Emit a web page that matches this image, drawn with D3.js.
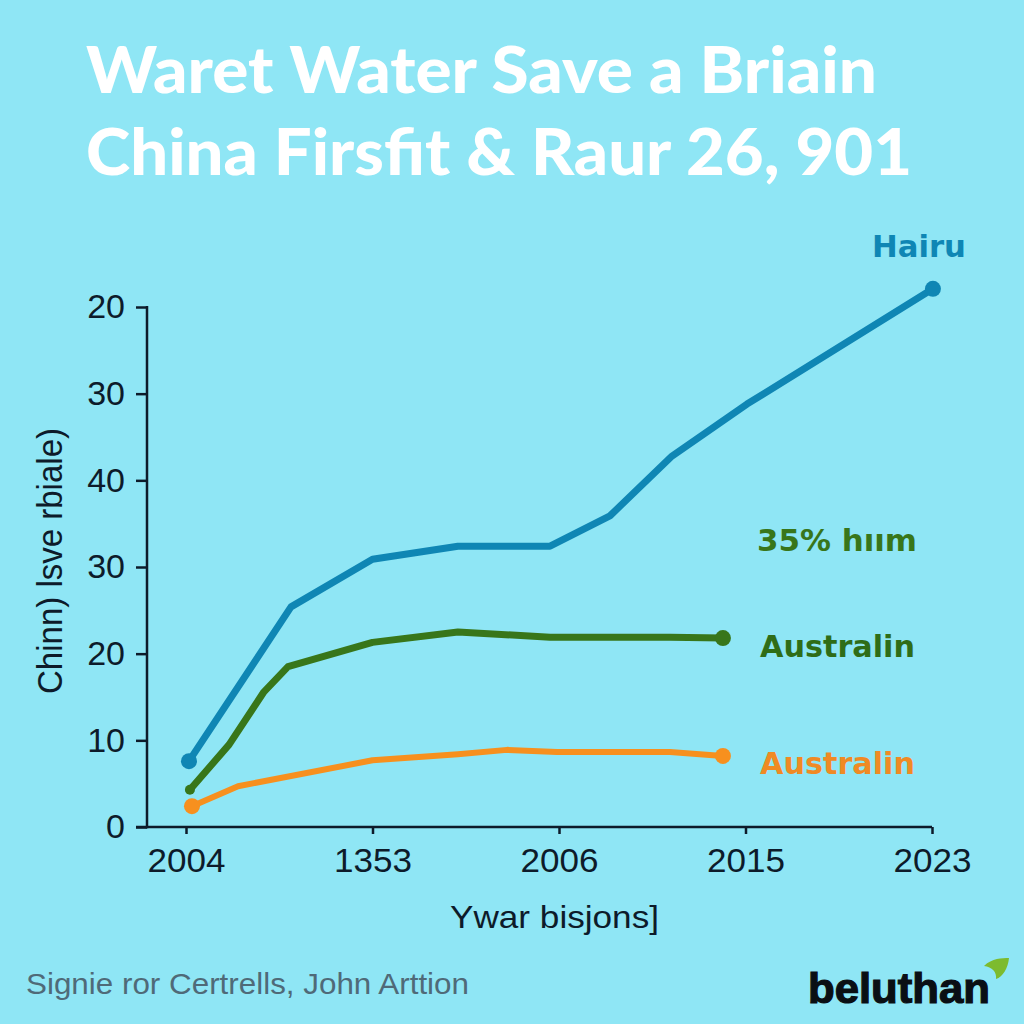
<!DOCTYPE html>
<html><head><meta charset="utf-8">
<script src="https://cdn.jsdelivr.net/npm/d3@7"></script>
<style>html,body{margin:0;padding:0;background:#8fe6f5}svg{display:block}</style>
</head><body><div id="chart"></div>
<script>
const titleLines = ["Waret Water Save a Briain", "China Firsfit & Raur 26, 901"];
const xTickPositions = [0, 1, 2, 3, 4];
const xTickLabels = ["2004", "1353", "2006", "2015", "2023"];
const yTickPositions = [0, 10, 20, 30, 40, 50, 60];
const yTickLabels = ["0", "10", "20", "30", "40", "30", "20"];
const blueX = [0.016, 0.563, 1, 1.458, 1.952, 2.273, 2.606, 3.008, 4.005];
const blueY = [7.6, 25.4, 30.9, 32.4, 32.4, 35.9, 42.8, 48.8, 62.1];
const greenX = [0.021, 0.231, 0.418, 0.547, 1, 1.458, 1.952, 2.595, 2.879];
const greenY = [4.3, 9.5, 15.6, 18.5, 21.3, 22.5, 21.9, 21.9, 21.8];
const orangeX = [0.032, 0.279, 1, 1.458, 1.721, 1.989, 2.595, 2.879];
const orangeY = [2.4, 4.7, 7.7, 8.4, 8.9, 8.65, 8.65, 8.2];

const svg = d3.select("#chart").append("svg").attr("width",1024).attr("height",1024);
svg.append("rect").attr("width",1024).attr("height",1024).attr("fill","#8fe6f5");

const x = d3.scaleLinear().domain([0,4]).range([186,932]);
const y = d3.scaleLinear().domain([0,60]).range([827,307]);
const ink = "#0d1b2a";
const sans = "'Liberation Sans', Arial, sans-serif";

svg.selectAll("text.title").data(titleLines).join("text").attr("class","title")
  .attr("x",86).attr("y",(d,i)=>[93,175][i])
  .attr("font-family","Lato, sans-serif").attr("font-weight",900)
  .attr("font-size",64).attr("fill","#ffffff")
  .attr("textLength",(d,i)=>[791,826][i]).attr("lengthAdjust","spacingAndGlyphs")
  .text(d=>d);

const yAxis = d3.axisLeft(y).tickValues(yTickPositions)
  .tickFormat((d,i)=>yTickLabels[i]).tickSize(11).tickPadding(11).tickSizeOuter(0);
const gy = svg.append("g").attr("transform","translate(147,0)").call(yAxis);
const xAxis = d3.axisBottom(x).tickValues(xTickPositions)
  .tickFormat((d,i)=>xTickLabels[i]).tickSize(7).tickPadding(14).tickSizeOuter(0);
const gx = svg.append("g").attr("transform","translate(0,827)").call(xAxis);
[gy,gx].forEach(g=>{
  g.selectAll("text").attr("font-family",sans).attr("font-size",34).attr("fill",ink);
  g.selectAll("line").attr("stroke",ink).attr("stroke-width",2.5);
  g.select(".domain").remove();
});
gx.selectAll("text").attr("textLength",78).attr("lengthAdjust","spacingAndGlyphs");
svg.append("line").attr("x1",147).attr("x2",147).attr("y1",y(60)-1).attr("y2",y(0)+1.2).attr("stroke",ink).attr("stroke-width",2.5);
svg.append("line").attr("x1",136).attr("x2",932).attr("y1",y(0)).attr("y2",y(0)).attr("stroke",ink).attr("stroke-width",2.5);

const series = [
 {xs:orangeX, ys:orangeY, color:"#f7901e", w:6, r0:8, r1:8},
 {xs:greenX, ys:greenY, color:"#38761a", w:7, r0:5, r1:8},
 {xs:blueX, ys:blueY, color:"#0f86b4", w:7, r0:8, r1:8}
];
const line = d3.line().x(d=>x(d[0])).y(d=>y(d[1]));
series.forEach(s=>{
  const pts = s.xs.map((v,i)=>[v,s.ys[i]]);
  svg.append("path").attr("d",line(pts)).attr("fill","none")
    .attr("stroke",s.color).attr("stroke-width",s.w).attr("stroke-linejoin","round");
  [[pts[0],s.r0],[pts[pts.length-1],s.r1]].forEach(([p,r])=>{
    svg.append("circle").attr("cx",x(p[0])).attr("cy",y(p[1])).attr("r",r).attr("fill",s.color);
  });
});

function label(t,xp,yp,size,color,len,weight,fam){
  const el = svg.append("text").attr("x",xp).attr("y",yp).attr("font-family",fam||"'DejaVu Sans', sans-serif")
    .attr("font-weight",weight||700).attr("font-size",size).attr("fill",color).text(t);
  if(len) el.attr("textLength",len).attr("lengthAdjust","spacingAndGlyphs");
  return el;
}
label("Hairu",872,257,30,"#0f86b4",94);
label("35%  hıım",757,551,30,"#38761a",160);
label("Australin",760,657,30,"#2f6d17",155);
label("Australin",760,774,30,"#f08a24",155);

svg.append("text").attr("transform","translate(62,694) rotate(-90)")
  .attr("font-family",sans).attr("font-size",35).attr("fill",ink)
  .attr("textLength",266).attr("lengthAdjust","spacingAndGlyphs").text("Chinn) lsve rbiale)");
svg.append("text").attr("x",450).attr("y",928).attr("font-family",sans).attr("font-size",32).attr("fill",ink)
  .attr("textLength",209).attr("lengthAdjust","spacingAndGlyphs").text("Ywar bisjons]");
svg.append("text").attr("x",26).attr("y",994).attr("font-family",sans).attr("font-size",30).attr("fill","#4f6a78")
  .attr("textLength",443).attr("lengthAdjust","spacingAndGlyphs").text("Signie ror Certrells, John Arttion");
label("beluthan",808,1003,42,"#0a0f14",182,700,"'Liberation Sans', sans-serif")
  .attr("stroke","#0a0f14").attr("stroke-width",1.2);

// leaf mark of the logo
svg.append("path").attr("d","M984 966 C992 958 1002 958 1009 958 C1008 968 1003 977 996 979 C997 972 992 967 984 966 Z").attr("fill","#7dbb2e");
</script></body></html>
